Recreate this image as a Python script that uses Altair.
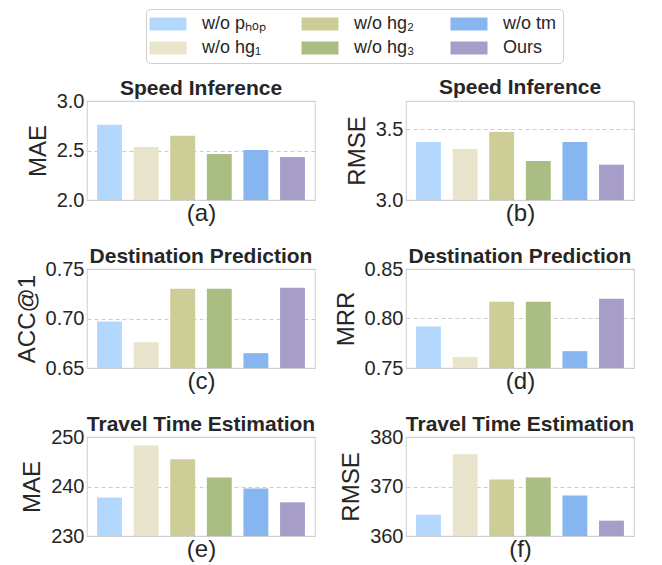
import altair as alt
import pandas as pd

# ---- data ----
models = ["w/o pₕₒₚ", "w/o hg₁", "w/o hg₂", "w/o hg₃", "w/o tm", "Ours"]
colors = ["#B4D8FD", "#E9E4CC", "#CDCD98", "#AABD83", "#86B5EF", "#A69EC9"]

titles = ["Speed Inference", "Speed Inference",
          "Destination Prediction", "Destination Prediction",
          "Travel Time Estimation", "Travel Time Estimation"]
ylabels = ["MAE", "RMSE", "ACC@1", "MRR", "MAE", "RMSE"]
tags = ["(a)", "(b)", "(c)", "(d)", "(e)", "(f)"]
domains = [[2.0, 3.0], [3.0, 3.7], [0.65, 0.75], [0.75, 0.85], [230, 250], [360, 380]]
tick_values = [[2.0, 2.5, 3.0], [3.0, 3.5], [0.65, 0.70, 0.75],
               [0.75, 0.80, 0.85], [230, 240, 250], [360, 370, 380]]
formats = [".1f", ".1f", ".2f", ".2f", "d", "d"]
# panel (b) has no tick label at its top edge, so its title needs more offset
title_offsets = [-8, 3, -8, -8, -8, -8]

speed_mae = [2.76, 2.535, 2.65, 2.465, 2.505, 2.435]
speed_rmse = [3.41, 3.36, 3.48, 3.275, 3.41, 3.25]
dest_acc1 = [0.697, 0.676, 0.730, 0.730, 0.665, 0.731]
dest_mrr = [0.792, 0.761, 0.817, 0.817, 0.767, 0.820]
tte_mae = [237.8, 248.3, 245.5, 241.8, 239.6, 236.8]
tte_rmse = [364.3, 376.5, 371.4, 371.8, 368.2, 363.1]
series = [speed_mae, speed_rmse, dest_acc1, dest_mrr, tte_mae, tte_rmse]

TEXT = "#262626"

legend = alt.Legend(
    orient="none", legendX=59, legendY=-92, columns=3, title=None,
    symbolType="M-2.846,-1H2.846V1H-2.846Z", symbolSize=169,
    symbolStrokeWidth=0, symbolOpacity=1, symbolOffset=7,
    labelFontSize=18, labelOffset=25, labelColor=TEXT,
    columnPadding=35, rowPadding=6, padding=6, gridAlign="each",
    strokeColor="#d0d0d0", fillColor="white", cornerRadius=4,
)

panels = []
for i in range(6):
    df = pd.DataFrame({"model": models, "value": series[i]})
    lo = domains[i][0]
    ch = alt.Chart(df).mark_bar().encode(
        x=alt.X("model:N", sort=models,
                scale=alt.Scale(domain=models, paddingInner=0.32, paddingOuter=0.275),
                axis=alt.Axis(labels=False, ticks=False, domain=False, grid=False,
                              title=tags[i], titleFontSize=24, titleFontWeight="normal",
                              titlePadding=1, titleColor=TEXT)),
        y=alt.Y("value:Q",
                scale=alt.Scale(domain=domains[i], zero=False, nice=False),
                axis=alt.Axis(values=tick_values[i], format=formats[i], title=ylabels[i],
                              ticks=False, domain=False, grid=True,
                              gridColor="#cccccc", gridDash=[4, 3], gridWidth=1,
                              labelFontSize=20, labelPadding=3, labelColor=TEXT,
                              titleFontSize=24, titleFontWeight="normal", titleColor=TEXT,
                              titlePadding=6)),
        y2=alt.datum(lo),
        color=alt.Color("model:N",
                        scale=alt.Scale(domain=models, range=colors),
                        legend=legend),
    ).properties(
        width=228, height=99,
        title=alt.TitleParams(titles[i], fontSize=21, fontWeight="bold",
                              color=TEXT, offset=title_offsets[i], anchor="middle"),
    )
    panels.append(ch)

chart = alt.concat(
    *panels, columns=2, spacing={"row": 69, "column": 91}, bounds="flush"
).properties(
    padding={"left": 6, "top": 0, "right": 5, "bottom": 0}
).configure(
    font="Liberation Sans"
).configure_view(
    stroke="#d6d6d6", strokeWidth=1.2
)

chart.save("out.html", embed_options={"renderer": "svg", "actions": False})
